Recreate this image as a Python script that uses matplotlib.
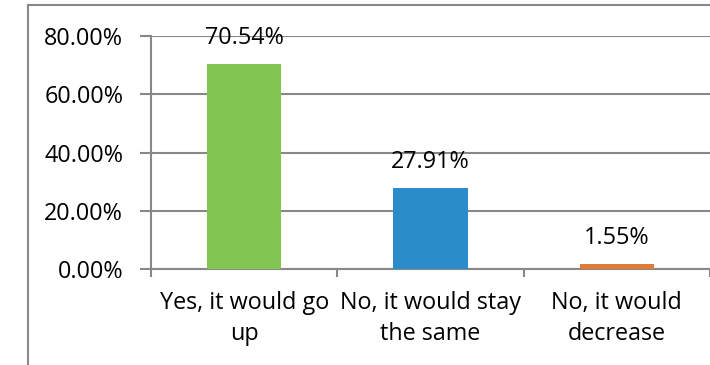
import matplotlib
matplotlib.use("Agg")
import matplotlib.pyplot as plt
from matplotlib.lines import Line2D

categories = ["Yes, it would go\nup", "No, it would stay\nthe same", "No, it would\ndecrease"]
values = [70.54, 27.91, 1.55]
labels = ["70.54%", "27.91%", "1.55%"]
colors = ["#83C552", "#2A8DCA", "#E07B39"]
yticks = [0, 20, 40, 60, 80]
ytick_labels = ["0.00%", "20.00%", "40.00%", "60.00%", "80.00%"]

plt.rcParams['font.family'] = ['Open Sans', 'DejaVu Sans']
grey = "#888888"

fig = plt.figure(figsize=(7.1, 3.65), dpi=100)
ax = fig.add_axes([151/710, 1-269/365, (710-151)/710, (269-36)/365])

x = list(range(len(categories)))
ax.bar(x, values, width=0.4, color=colors, zorder=3)
for xi, v, lab in zip(x, values, labels):
    ax.annotate(lab, (xi, v), xytext=(0, 20), textcoords='offset pixels',
                ha='center', va='baseline', fontsize=16.8, color='black', zorder=4)

ax.set_xlim(-0.5, 2.5)
ax.set_ylim(0, 80)
ax.set_yticks(yticks)
ax.set_yticklabels(ytick_labels, fontsize=16.8)
ax.set_xticks(x)
ax.set_xticklabels(categories, fontsize=16.8, linespacing=1.4)
ax.tick_params(axis='x', length=0, pad=16)
ax.set_xticks([-0.5, 0.5, 1.5, 2.5], minor=True)
ax.tick_params(axis='x', which='minor', length=6, color=grey, width=1.5, direction='out')
ax.tick_params(axis='y', length=8, color=grey, width=1.5, pad=12)
ax.yaxis.grid(True, color=grey, linewidth=1.5, zorder=0)
ax.set_axisbelow(True)
for s in ['top', 'right']:
    ax.spines[s].set_visible(False)
for s in ['left', 'bottom']:
    ax.spines[s].set_color(grey)
    ax.spines[s].set_linewidth(1.5)

# outer chart border
fig.add_artist(Line2D([28/710, 28/710], [0, 1-5/365], transform=fig.transFigure, color=grey, linewidth=1.5))
fig.add_artist(Line2D([28/710, 1], [1-5/365, 1-5/365], transform=fig.transFigure, color=grey, linewidth=1.5))

fig.savefig("out.png", dpi=100)
